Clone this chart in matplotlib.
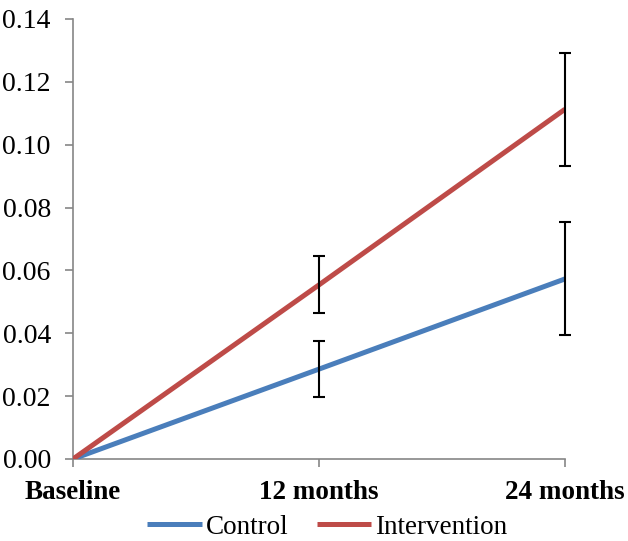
import matplotlib
matplotlib.use("Agg")
import matplotlib.pyplot as plt
from matplotlib.ticker import FormatStrFormatter

categories = ["Baseline", "12 months", "24 months"]
control = [0.0, 0.0286, 0.0573]
control_err = [0.0, 0.0089, 0.018]
intervention = [0.0, 0.0554, 0.1113]
intervention_err = [0.0, 0.0091, 0.018]

plt.rcParams['font.family'] = ['Liberation Serif', 'DejaVu Serif']

fig = plt.figure(figsize=(6.28, 5.41), dpi=100)
ax = fig.add_axes([73/628, 1-459/541, (565-73)/628, (459-19)/541])

x = list(range(len(categories)))
blue = "#4A7EBB"
red = "#BE4B48"
ax.plot(x, control, color=blue, lw=3.6, label="Control", solid_capstyle='butt', zorder=3)
ax.plot(x, intervention, color=red, lw=3.6, label="Intervention", solid_capstyle='butt', zorder=3)
for vals, errs in [(control, control_err), (intervention, intervention_err)]:
    xs = [xi for xi, e in zip(x, errs) if e > 0]
    ys = [v for v, e in zip(vals, errs) if e > 0]
    es = [e for e in errs if e > 0]
    eb = ax.errorbar(xs, ys, yerr=es, fmt='none', ecolor='black', elinewidth=1.5,
                     capsize=4, capthick=1.5, zorder=4)
    for art in list(eb.lines[1]) + list(eb.lines[2]):
        art.set_clip_on(False)

ax.set_xlim(0, 2)
ax.set_ylim(0, 0.14)
ax.set_yticks([0, 0.02, 0.04, 0.06, 0.08, 0.10, 0.12, 0.14])
ax.yaxis.set_major_formatter(FormatStrFormatter('%.2f'))
ax.set_xticks(x)
ax.set_xticklabels(categories, fontweight='bold')
ax.tick_params(axis='y', labelsize=20, length=6, width=1.2, color='#868686', pad=10)
ax.tick_params(axis='x', labelsize=19.5, length=6, width=1.2, color='#868686', pad=9)
for s in ['top', 'right']:
    ax.spines[s].set_visible(False)
for s in ['left', 'bottom']:
    ax.spines[s].set_color('#868686')
    ax.spines[s].set_linewidth(1.2)

leg = fig.legend(loc='center', bbox_to_anchor=(327.5/628, 1-527/541), ncol=2, frameon=False,
                 fontsize=19.5, handlelength=2.0, handletextpad=0.15, columnspacing=1.07,
                 borderpad=0, borderaxespad=0)
fig.savefig("out.png", dpi=100)
